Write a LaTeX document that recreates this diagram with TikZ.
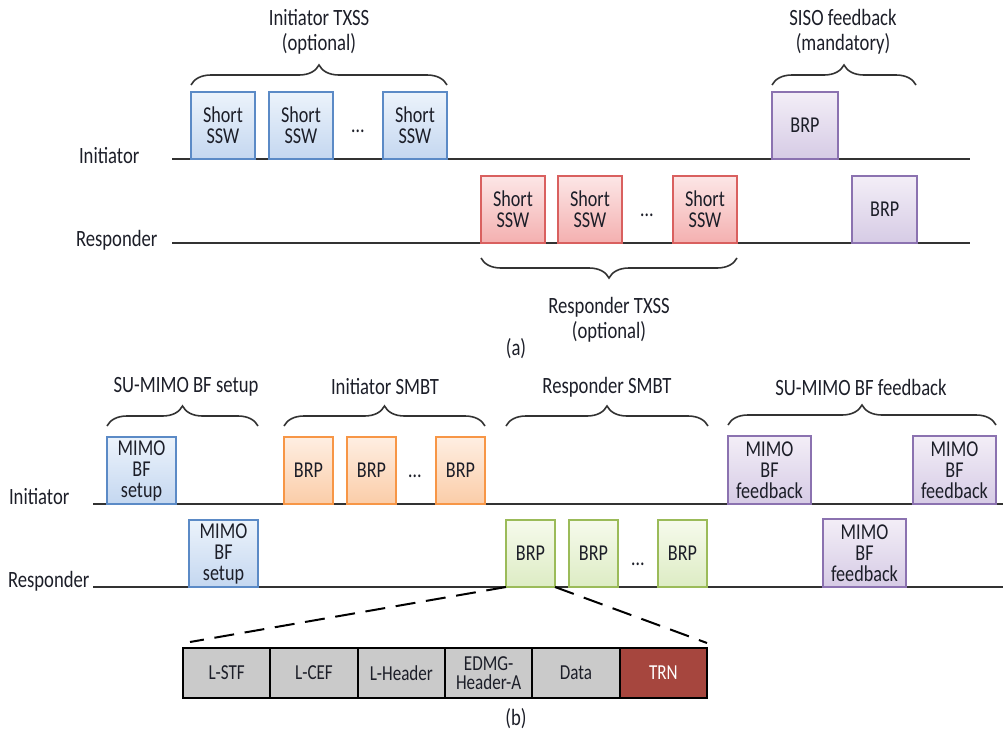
\documentclass[tikz,border=0pt]{standalone}
\usepackage{fontspec}
\setmainfont{Carlito}[FakeStretch=0.8]
\usetikzlibrary{positioning,calc,decorations.pathreplacing}

\definecolor{txt}{RGB}{28,30,40}
\definecolor{lineclr}{RGB}{50,50,50}
\definecolor{blueln}{RGB}{91,138,198}
\definecolor{bluetop}{RGB}{236,243,251}
\definecolor{bluebot}{RGB}{196,215,240}
\definecolor{redln}{RGB}{217,96,95}
\definecolor{redtop}{RGB}{252,230,230}
\definecolor{redbot}{RGB}{244,176,176}
\definecolor{purln}{RGB}{139,114,176}
\definecolor{purtop}{RGB}{243,238,247}
\definecolor{purbot}{RGB}{214,203,229}
\definecolor{orgln}{RGB}{247,150,70}
\definecolor{orgtop}{RGB}{254,238,226}
\definecolor{orgbot}{RGB}{251,205,168}
\definecolor{grnln}{RGB}{155,187,89}
\definecolor{grntop}{RGB}{246,250,236}
\definecolor{grnbot}{RGB}{221,236,196}
\definecolor{cellgray}{RGB}{202,202,202}
\definecolor{trnred}{RGB}{166,70,62}

\tikzset{every picture/.style={line width=1.5pt}}
\tikzset{
  txtfont/.style={font=\fontsize{17}{15.75}\selectfont},
  pkt/.style={draw, line width=1.5pt, inner sep=0pt, outer sep=0pt, align=center,
    text=txt, txtfont, anchor=south west, minimum height=50.25pt},
  bluepkt/.style={pkt, draw=blueln, top color=bluetop, bottom color=bluebot},
  redpkt/.style={pkt, draw=redln, top color=redtop, bottom color=redbot},
  purpkt/.style={pkt, draw=purln, top color=purtop, bottom color=purbot},
  orgpkt/.style={pkt, draw=orgln, top color=orgtop, bottom color=orgbot},
  grnpkt/.style={pkt, draw=grnln, top color=grntop, bottom color=grnbot},
  tline/.style={draw=lineclr, line width=1.5pt},
  brc/.style={draw=lineclr, line width=1.2pt, decorate, decoration={brace, amplitude=15pt}},
  captxt/.style={align=center, text=txt, inner sep=0pt, font=\fontsize{17.5}{18.75}\selectfont},
  lbl/.style={anchor=west, text=txt, inner sep=0pt, font=\fontsize{17.5}{18}\selectfont},
  dotsnode/.style={text=txt, inner sep=0pt, txtfont},
  cell/.style={draw=black, line width=1.5pt, fill=cellgray, minimum width=65.5pt,
    minimum height=37.5pt, inner sep=0pt, outer sep=0pt, align=center, text=txt,
    font=\fontsize{16}{14.5}\selectfont},
  dsh/.style={draw=black, line width=1.5pt, dash pattern=on 15pt off 8pt}
}

\begin{document}
\begin{tikzpicture}[x=0.75pt,y=0.75pt,yscale=-1,xscale=1]
\useasboundingbox (0,0) rectangle (1003,736);

%%%%%%%%%%%%%%%%%%%% (a) %%%%%%%%%%%%%%%%%%%%
%Time lines
\coordinate (ia0) at (172,159);
\coordinate (ia1) at (970,159);
\coordinate (ra0) at (172,243);
\coordinate (ra1) at (970,243);
\draw [tline] (ia0) -- (ia1);
\draw [tline] (ra0) -- (ra1);
% Text Node
\node [lbl] (ilbla) at (78,156) {Initiator};
\node [lbl] (rlbla) at (75,240) {Responder};

%Initiator TXSS
\node [bluepkt, minimum width=48pt] (isw1) at (191,159) {Short\\SSW};
\node [bluepkt, minimum width=48pt] (isw2) at (269,159) {Short\\SSW};
\node [bluepkt, minimum width=48pt] (isw3) at (383,159) {Short\\SSW};
\node [dotsnode] (idots) at (358,131) {\dots};
\node [purpkt, minimum width=49.5pt] (ibrp) at (772,159) {BRP};

%Responder TXSS
\node [redpkt, minimum width=48pt] (rsw1) at (481,243) {Short\\SSW};
\node [redpkt, minimum width=48pt] (rsw2) at (558,243) {Short\\SSW};
\node [redpkt, minimum width=48pt] (rsw3) at (673,243) {Short\\SSW};
\node [dotsnode] (rdots) at (647,215) {\dots};
\node [purpkt, minimum width=49pt] (rbrp) at (852,243) {BRP};

%Braces
\draw [brc] ($(isw1.north west)+(0,-7)$) -- ($(isw3.north east)+(0,-7)$);
\draw [brc] ($(ibrp.north west)+(0,-7)$) -- ($(ibrp.north east)+(78,-7)$);
\draw [brc] ($(rsw3.south east)+(0,15)$) -- ($(rsw1.south west)+(0,15)$);

% Text Node
\node [captxt] (itxss) at (319,32) {Initiator TXSS\\(optional)};
\node [captxt] (siso) at (843,32) {SISO feedback\\(mandatory)};
\node [captxt] (rtxss) at (609,320) {Responder TXSS\\(optional)};
\node [captxt] (capa) at (516,349) {(a)};

%%%%%%%%%%%%%%%%%%%% (b) %%%%%%%%%%%%%%%%%%%%
%Time lines
\coordinate (ib0) at (93,504);
\coordinate (ib1) at (1003,504);
\coordinate (rb0) at (93,587);
\coordinate (rb1) at (1003,587);
\draw [tline] (ib0) -- (ib1);
\draw [tline] (rb0) -- (rb1);
% Text Node
\node [lbl] (ilblb) at (8,497) {Initiator};
\node [lbl] (rlblb) at (7,581) {Responder};

%SU-MIMO BF setup
\node [bluepkt, minimum width=51.75pt] (isetup) at (107,504) {MIMO\\BF\\setup};
\node [bluepkt, minimum width=51.75pt] (rsetup) at (189,587) {MIMO\\BF\\setup};

%Initiator SMBT
\node [orgpkt, minimum width=36.75pt] (ibrp1) at (284,504) {BRP};
\node [orgpkt, minimum width=36.75pt] (ibrp2) at (347,504) {BRP};
\node [orgpkt, minimum width=36.75pt] (ibrp3) at (436,504) {BRP};
\node [dotsnode] (bdots1) at (415,476) {\dots};

%Responder SMBT
\node [grnpkt, minimum width=36.75pt] (rbrp1) at (506,587) {BRP};
\node [grnpkt, minimum width=36.75pt] (rbrp2) at (569,587) {BRP};
\node [grnpkt, minimum width=36.75pt] (rbrp3) at (658,587) {BRP};
\node [dotsnode] (bdots2) at (638,564) {\dots};

%SU-MIMO BF feedback
\node [purpkt, minimum width=62.25pt, minimum height=51pt] (ifb1) at (728,504) {MIMO\\BF\\feedback};
\node [purpkt, minimum width=62.25pt, minimum height=51pt] (ifb2) at (913,504) {MIMO\\BF\\feedback};
\node [purpkt, minimum width=62.25pt, minimum height=51pt] (rfb) at (823,587) {MIMO\\BF\\feedback};

%Braces
\draw [brc] ($(isetup.north west)+(0,-11)$) -- ($(isetup.north west)+(151,-11)$);
\draw [brc] ($(ibrp1.north west)+(0,-11)$) -- ($(ibrp3.north east)+(0,-11)$);
\draw [brc] ($(isetup.north west)+(399,-11)$) -- ($(isetup.north west)+(601,-11)$);
\draw [brc] ($(ifb1.north west)+(0,-11)$) -- ($(ifb2.north east)+(0,-11)$);

% Text Node
\node [captxt] (setupcap) at (186,387) {SU-MIMO BF setup};
\node [captxt] (ismbt) at (385,387) {Initiator SMBT};
\node [captxt] (rsmbt) at (607,387) {Responder SMBT};
\node [captxt] (fbcap) at (861,387) {SU-MIMO BF feedback};

%BRP frame
\node [cell, anchor=north west] (f1) at (183,648) {L-STF};
\node [cell, right=0pt of f1] (f2) {L-CEF};
\node [cell, right=0pt of f2] (f3) {L-Header};
\node [cell, right=0pt of f3] (f4) {EDMG-\\Header-A};
\node [cell, right=0pt of f4] (f5) {Data};
\node [cell, right=0pt of f5, fill=trnred, text=white] (f6) {TRN};

%Dashed lines
\coordinate (dl) at (190,642);
\coordinate (dr) at (707,643);
\draw [dsh] (rbrp1.south west) -- (dl);
\draw [dsh] (rbrp1.south east) -- (dr);

% Text Node
\node [captxt] (capb) at (516,719) {(b)};
\end{tikzpicture}
\end{document}
